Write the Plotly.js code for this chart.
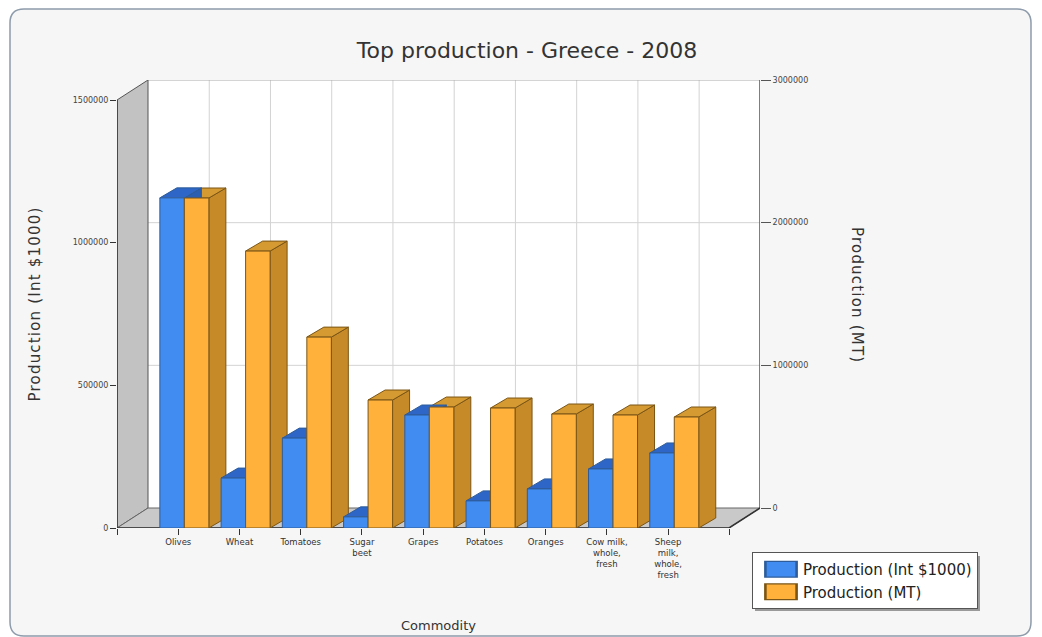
<!DOCTYPE html>
<html>
<head>
<meta charset="utf-8">
<script src="https://cdn.plot.ly/plotly-3.0.1.min.js"></script>
<style>
html,body{margin:0;padding:0;background:#ffffff;}
#chart{width:1042px;height:637px;}
#chart .ytitle, #chart .annotation-text{letter-spacing:1.2px;}
#chart .legend .legendpoints path{transform:translate(28px,0px) scale(2.6,1.3);}
</style>
</head>
<body>
<div id="chart"></div>
<script>
// ---------- data ----------
const categories = ['Olives', 'Wheat', 'Tomatoes', 'Sugar beet', 'Grapes', 'Potatoes', 'Oranges', 'Cow milk, whole, fresh', 'Sheep milk, whole, fresh'];
const categoryLabels = ['Olives', 'Wheat', 'Tomatoes', 'Sugar<br>beet', 'Grapes', 'Potatoes', 'Oranges', 'Cow milk,<br>whole,<br>fresh', 'Sheep<br>milk,<br>whole,<br>fresh'];
const productionInt1000 = [1157000, 175000, 315000, 39000, 396000, 95000, 137000, 207000, 263000];
const productionMT = [2313000, 1941000, 1338000, 897000, 848000, 841000, 799000, 792000, 778000];
const leftTicks = [0, 500000, 1000000, 1500000];
const rightTicks = [0, 1000000, 2000000, 3000000];
const seriesNames = ['Production (Int $1000)', 'Production (MT)'];

// ---------- geometry / style ----------
const W = 1042, H = 637;
const M = {l: 117, r: 282, t: 80, b: 109};
const PW = W - M.l - M.r, PH = H - M.t - M.b;
const LEFT_MAX = leftTicks[leftTicks.length - 1];
const RIGHT_MAX = rightTicks[rightTicks.length - 1];
const WALL_PX_X = 31, WALL_PX_Y = 20;       // depth of the 3D box
const BAR_PX_X = 17, BAR_PX_Y = 10;         // depth of each bar
const n = categories.length;
const xRange = [-1, n + 0.5];
const pxPerX = PW / (xRange[1] - xRange[0]);
const y1Max = LEFT_MAX * PH / (PH - WALL_PX_Y);
const y1Range = [0, y1Max];
const y2Range = [0, y1Max * RIGHT_MAX / LEFT_MAX];
const y3Range = [-RIGHT_MAX * WALL_PX_Y / (PH - WALL_PX_Y), RIGHT_MAX];
const backDX = WALL_PX_X / pxPerX;
const backDY = WALL_PX_Y * y1Max / PH;
const barDX = BAR_PX_X / pxPerX;
const barW = 0.4;
const offBlue = -0.3, offOrange = 0.1;

const FONT = 'DejaVu Sans, Verdana, sans-serif';
const blue = '#418cf0', blueTop = '#2d66c6', blueSide = '#2a5eb0', blueLine = '#2e5c9a';
const orange = '#ffb13c', orangeTop = '#d59a31', orangeSide = '#c78a28', orangeLine = '#7a5516';

const px2x = px => (px - M.l) / PW;
const py2y = py => (H - M.b - py) / PH;

const xs = categories.map((c, i) => i);

const shapes = [];
// outer rounded frame
(function () {
  const x0 = 10, y0 = 9, x1 = 1031, y1 = 636, r = 14;
  const P = (x, y) => px2x(x).toFixed(5) + ',' + py2y(y).toFixed(5);
  const path = 'M' + P(x0 + r, y0) + ' L' + P(x1 - r, y0) + ' Q' + P(x1, y0) + ' ' + P(x1, y0 + r) +
    ' L' + P(x1, y1 - r) + ' Q' + P(x1, y1) + ' ' + P(x1 - r, y1) +
    ' L' + P(x0 + r, y1) + ' Q' + P(x0, y1) + ' ' + P(x0, y1 - r) +
    ' L' + P(x0, y0 + r) + ' Q' + P(x0, y0) + ' ' + P(x0 + r, y0) + ' Z';
  shapes.push({type: 'path', xref: 'paper', yref: 'paper', path: path, fillcolor: '#f6f6f6',
    line: {color: '#8d9bab', width: 1.5}, layer: 'below'});
  // soft shadow behind the legend box
  shapes.push({type: 'rect', xref: 'paper', yref: 'paper', x0: px2x(755), x1: px2x(980), y0: py2y(611), y1: py2y(556),
    fillcolor: '#9a9a9a', line: {width: 0}, layer: 'above'});
})();
// back plane
shapes.push({type: 'rect', xref: 'x', yref: 'y3', x0: xRange[0] + backDX, x1: xRange[1], y0: 0, y1: RIGHT_MAX,
  fillcolor: '#ffffff', line: {width: 0}, layer: 'below'});
// back vertical gridlines
xs.forEach(i => shapes.push({type: 'line', xref: 'x', yref: 'y3', x0: i + backDX, x1: i + backDX, y0: 0, y1: RIGHT_MAX,
  line: {color: '#d3d3d3', width: 1}, layer: 'below'}));
// back horizontal gridlines
rightTicks.slice(1).forEach(v => shapes.push({type: 'line', xref: 'x', yref: 'y3', x0: xRange[0] + backDX, x1: xRange[1], y0: v, y1: v,
  line: {color: v === RIGHT_MAX ? '#a9a9a9' : '#d3d3d3', width: 1}, layer: 'below'}));
// right (back) axis line
shapes.push({type: 'line', xref: 'x', yref: 'y3', x0: xRange[1], x1: xRange[1], y0: 0, y1: RIGHT_MAX,
  line: {color: '#555555', width: 1.5}, layer: 'below'});
// left wall
shapes.push({type: 'path', xref: 'x', yref: 'y',
  path: `M${xRange[0]},0 L${xRange[0]},${LEFT_MAX} L${xRange[0] + backDX},${y1Max} L${xRange[0] + backDX},${backDY} Z`,
  fillcolor: '#c2c2c2', line: {color: '#555555', width: 1}, layer: 'below'});
// floor
shapes.push({type: 'path', xref: 'x', yref: 'y',
  path: `M${xRange[0]},0 L${xRange[1] - backDX},0 L${xRange[1]},${backDY} L${xRange[0] + backDX},${backDY} Z`,
  fillcolor: '#c9c9c9', line: {color: '#666666', width: 1}, layer: 'below'});
// front axis lines
shapes.push({type: 'line', xref: 'x', yref: 'y', x0: xRange[0], x1: xRange[1] - backDX, y0: 0, y1: 0,
  line: {color: '#333333', width: 1.5}, layer: 'below'});
shapes.push({type: 'line', xref: 'x', yref: 'y', x0: xRange[0], x1: xRange[0], y0: 0, y1: LEFT_MAX,
  line: {color: '#333333', width: 1.5}, layer: 'below'});
shapes.push({type: 'line', xref: 'x', yref: 'y', x0: xRange[1] - backDX, x1: xRange[1], y0: 0, y1: backDY,
  line: {color: '#333333', width: 1.5}, layer: 'below'});

// 3D faces for bars (top + side), drawn under the front faces
function faces(values, off, yref, top, side, line, yMaxRange) {
  const dy = BAR_PX_Y * yMaxRange / PH;
  values.forEach((v, i) => {
    const x0 = i + off, x1 = x0 + barW;
    shapes.push({type: 'path', xref: 'x', yref: yref,
      path: `M${x1},0 L${x1},${v} L${x1 + barDX},${v + dy} L${x1 + barDX},${dy} Z`,
      fillcolor: side, line: {color: line, width: 1}, layer: 'below'});
    shapes.push({type: 'path', xref: 'x', yref: yref,
      path: `M${x0},${v} L${x1},${v} L${x1 + barDX},${v + dy} L${x0 + barDX},${v + dy} Z`,
      fillcolor: top, line: {color: line, width: 1}, layer: 'below'});
  });
}
faces(productionMT, offOrange, 'y2', orangeTop, orangeSide, orangeLine, y2Range[1]);
faces(productionInt1000, offBlue, 'y', blueTop, blueSide, blueLine, y1Range[1]);

const traces = [
  {type: 'bar', name: seriesNames[0], x: xs, y: productionInt1000, yaxis: 'y', width: barW, offset: offBlue,
   marker: {color: blue, line: {color: blueLine, width: 1}},
   customdata: categories, hovertemplate: '%{customdata}: %{y}<extra></extra>'},
  {type: 'bar', name: seriesNames[1], x: xs, y: productionMT, yaxis: 'y2', width: barW, offset: offOrange,
   marker: {color: orange, line: {color: orangeLine, width: 1}},
   customdata: categories, hovertemplate: '%{customdata}: %{y}<extra></extra>'}
];

const layout = {
  width: W, height: H,
  margin: M,
  paper_bgcolor: '#ffffff',
  plot_bgcolor: 'rgba(0,0,0,0)',
  font: {family: FONT, color: '#333333'},
  title: {text: 'Top production - Greece - 2008', x: 527 / W, xanchor: 'center', y: 1 - 50 / H, yanchor: 'middle',
    font: {family: FONT, size: 22, color: '#333333'}},
  barmode: 'overlay',
  showlegend: true,
  legend: {x: px2x(752), y: py2y(552), xanchor: 'left', yanchor: 'top',
    bgcolor: '#ffffff', bordercolor: '#555555', borderwidth: 1, itemwidth: 40,
    font: {family: FONT, size: 15, color: '#222222'}, traceorder: 'normal'},
  xaxis: {range: xRange, tickmode: 'array',
    tickvals: [xRange[0]].concat(xs, [n]),
    ticktext: [''].concat(categoryLabels, ['']),
    ticks: 'outside', ticklen: 6, tickcolor: '#333333', tickangle: 0,
    tickfont: {family: FONT, size: 8.5, color: '#333333'},
    showgrid: false, zeroline: false, showline: false, fixedrange: true,
    title: {text: 'Commodity', font: {family: FONT, size: 13, color: '#333333'}, standoff: 41}},
  yaxis: {range: y1Range, tickmode: 'array', tickvals: leftTicks, ticktext: leftTicks.map(String),
    ticks: 'outside', ticklen: 6, tickcolor: '#333333',
    tickfont: {family: FONT, size: 8, color: '#444444'},
    showgrid: false, zeroline: false, showline: false, fixedrange: true,
    title: {text: 'Production (Int $1000)', font: {family: FONT, size: 15, color: '#333333'}, standoff: 28}},
  yaxis2: {range: y2Range, overlaying: 'y', side: 'right', visible: false, fixedrange: true},
  yaxis3: {range: y3Range, overlaying: 'y', side: 'right', anchor: 'free', position: 1,
    tickmode: 'array', tickvals: rightTicks, ticktext: rightTicks.map(String),
    ticks: 'outside', ticklen: 10, tickcolor: '#555555',
    tickfont: {family: FONT, size: 8, color: '#444444'},
    showgrid: false, zeroline: false, showline: false, fixedrange: true},
  annotations: [
    {text: 'Production (MT)', xref: 'paper', yref: 'paper', x: px2x(868), y: py2y(295),
     textangle: 90, showarrow: false, font: {family: FONT, size: 15, color: '#333333'}}
  ],
  shapes: shapes
};

Plotly.newPlot('chart', traces, layout, {displayModeBar: false});
</script>
</body>
</html>
